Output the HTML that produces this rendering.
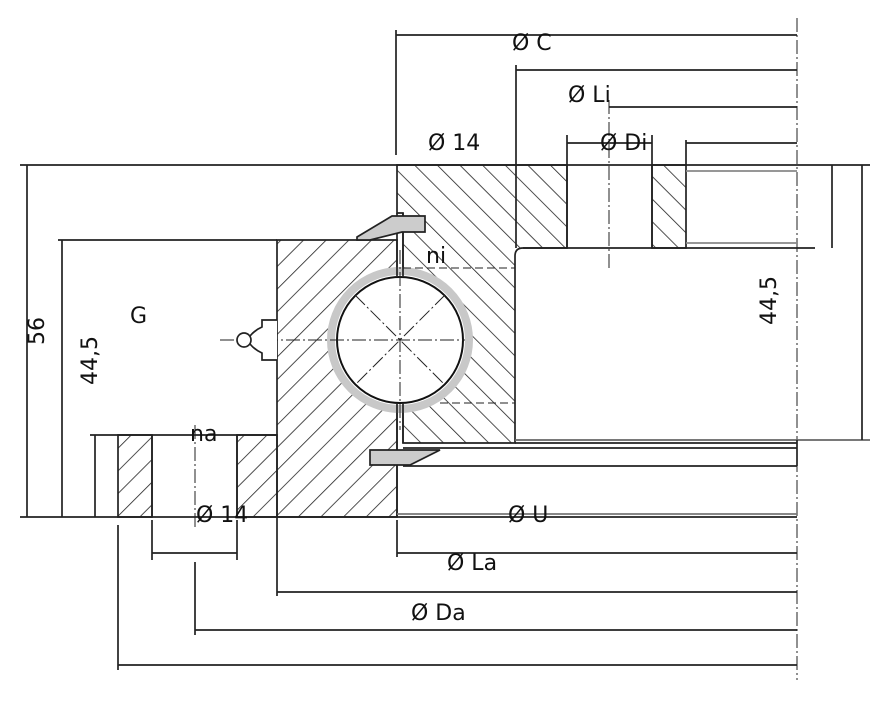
<!DOCTYPE html>
<html><head><meta charset="utf-8"><style>
html,body{margin:0;padding:0;background:#fff;width:875px;height:712px;overflow:hidden}
svg{display:block}
text{font-family:"DejaVu Sans","Liberation Sans",sans-serif;font-size:22px;fill:#111}
</style></head><body>
<svg width="875" height="712" viewBox="0 0 875 712" xmlns="http://www.w3.org/2000/svg">
<defs>
<pattern id="hs" width="16" height="16" patternUnits="userSpaceOnUse" patternTransform="rotate(45)">
<line x1="0" y1="0" x2="0" y2="16" stroke="#222" stroke-width="1.6"/></pattern>
<pattern id="hb" width="16" height="16" patternUnits="userSpaceOnUse" patternTransform="rotate(-45)">
<line x1="0" y1="0" x2="0" y2="16" stroke="#222" stroke-width="1.6"/></pattern>
</defs>
<g stroke="#222" fill="none" stroke-width="1.7">
<path d="M277,240 H397 V517 H277 Z" fill="url(#hs)"/>
<path d="M118,435 H152 V517 H118 Z" fill="url(#hs)"/>
<path d="M237,435 H277 V517 H237 Z" fill="url(#hs)"/>
<path d="M397,165 H567 V248 H523 Q515,248 515,256 V443 H403 V213 H397 Z" fill="url(#hb)"/>
<path d="M652,165 H686 V248 H652 Z" fill="url(#hb)"/>
<circle cx="400" cy="340" r="69" stroke="#c8c8c8" stroke-width="8" fill="#fff"/>
<circle cx="400" cy="340" r="63" fill="#fff" stroke="#111" stroke-width="2"/>
<g stroke-dasharray="14 3 2 3" stroke-width="1">
<line x1="355" y1="295" x2="445" y2="385"/><line x1="445" y1="295" x2="355" y2="385"/>
<line x1="400" y1="250" x2="400" y2="430"/><line x1="220" y1="340" x2="465" y2="340"/>
<line x1="797" y1="18" x2="797" y2="680"/>
<line x1="609" y1="100" x2="609" y2="270"/>
<line x1="195" y1="425" x2="195" y2="530"/>
</g>
<line x1="397" y1="213" x2="397" y2="277"/><line x1="403" y1="213" x2="403" y2="277"/>
<line x1="397" y1="403" x2="397" y2="450"/><line x1="403" y1="403" x2="403" y2="443"/>
<line x1="397" y1="455" x2="397" y2="517"/>
<line x1="403" y1="268" x2="515" y2="268" stroke-dasharray="8 4" stroke-width="1"/>
<line x1="440" y1="403" x2="515" y2="403" stroke-dasharray="8 4" stroke-width="1"/>
<path d="M357,237 L392,216 H425 V232 H402 L370,240 H357 Z" fill="#ccc"/>
<path d="M370,450 H440 L410,465 H370 Z" fill="#ccc"/>
<path d="M277,320 H262 V327 Q255,330 250,336 V344 Q255,350 262,353 V360 H277" fill="#fff"/>
<circle cx="244" cy="340" r="7" fill="#fff"/>
<line x1="397" y1="165" x2="797" y2="165"/><line x1="686" y1="171" x2="797" y2="171" stroke="#888"/>
<line x1="523" y1="248" x2="815" y2="248"/><line x1="686" y1="243" x2="797" y2="243" stroke="#888"/>
<line x1="567" y1="165" x2="567" y2="248"/><line x1="652" y1="165" x2="652" y2="248"/>
<line x1="515" y1="443" x2="797" y2="443"/><line x1="515" y1="440" x2="870" y2="440" stroke="#666"/>
<line x1="403" y1="448" x2="797" y2="448"/><line x1="403" y1="466" x2="797" y2="466"/>
<line x1="797" y1="440" x2="797" y2="466"/>
<line x1="397" y1="514" x2="797" y2="514" stroke="#777"/>
<line x1="20" y1="517" x2="797" y2="517"/>
<line x1="152" y1="435" x2="152" y2="517"/><line x1="237" y1="435" x2="237" y2="517"/>
<line x1="90" y1="435" x2="277" y2="435"/>
<line x1="20" y1="165" x2="397" y2="165"/><line x1="58" y1="240" x2="277" y2="240"/>
<line x1="27" y1="165" x2="27" y2="517"/><line x1="62" y1="240" x2="62" y2="517"/><line x1="95" y1="435" x2="95" y2="517"/>
<line x1="862" y1="165" x2="862" y2="440"/><line x1="832" y1="165" x2="832" y2="248"/>
<line x1="797" y1="165" x2="870" y2="165"/>
<line x1="396" y1="30" x2="396" y2="155"/><line x1="396" y1="35" x2="797" y2="35"/>
<line x1="516" y1="65" x2="516" y2="248"/><line x1="516" y1="70" x2="797" y2="70"/>
<line x1="609" y1="107" x2="797" y2="107"/>
<line x1="567" y1="135" x2="567" y2="165"/><line x1="652" y1="135" x2="652" y2="165"/>
<line x1="567" y1="143" x2="652" y2="143"/>
<line x1="686" y1="140" x2="686" y2="165"/><line x1="686" y1="143" x2="797" y2="143"/>
<line x1="152" y1="520" x2="152" y2="560"/><line x1="237" y1="520" x2="237" y2="560"/><line x1="152" y1="553" x2="237" y2="553"/>
<line x1="397" y1="520" x2="397" y2="557"/><line x1="397" y1="553" x2="797" y2="553"/>
<line x1="277" y1="517" x2="277" y2="596"/><line x1="277" y1="592" x2="797" y2="592"/>
<line x1="195" y1="562" x2="195" y2="635"/><line x1="195" y1="630" x2="797" y2="630"/>
<line x1="118" y1="525" x2="118" y2="670"/><line x1="118" y1="665" x2="797" y2="665"/>
</g>
<text x="512" y="50">Ø C</text>
<text x="568" y="102">Ø Li</text>
<text x="600" y="150">Ø Di</text>
<text x="428" y="150">Ø 14</text>
<text x="426" y="263">ni</text>
<text x="130" y="323">G</text>
<text x="190" y="441">na</text>
<text x="196" y="522">Ø 14</text>
<text x="508" y="522">Ø U</text>
<text x="447" y="570">Ø La</text>
<text x="411" y="620">Ø Da</text>
<text transform="translate(44,345) rotate(-90)">56</text>
<text transform="translate(97,385) rotate(-90)">44,5</text>
<text transform="translate(776,325) rotate(-90)">44,5</text>
</svg>
</body></html>
